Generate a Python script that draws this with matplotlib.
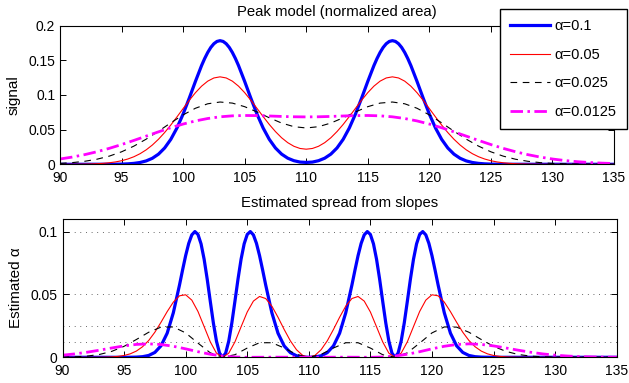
import numpy as np
import matplotlib
matplotlib.use("Agg")
import matplotlib.pyplot as plt

plt.rcParams['font.family'] = ['Liberation Sans', 'DejaVu Sans']
plt.rcParams['font.size'] = 10

# spread parameters (legend order)
alphas = [0.1, 0.05, 0.025, 0.0125]
labels = ['\u03b1=0.1', '\u03b1=0.05', '\u03b1=0.025', '\u03b1=0.0125']

# sample positions
x_step1 = np.arange(90, 136)
x_red_top = np.concatenate((np.arange(90, 130.5, 0.5), [135]))
x_red_est = np.concatenate(([90, 91], np.arange(92, 128.5, 0.5), [129, 130, 135]))
x_blue_top = [90, 94, 94.5, 95, 95.5, 96, 96.5, 97, 97.5, 98, 98.5, 99, 99.5, 100, 100.5,
              101, 101.5, 101.75, 102, 102.25, 102.5, 102.75, 103, 103.25, 103.5, 103.75,
              104, 104.25, 104.5, 105, 105.5, 106, 106.5, 107, 107.5, 108, 108.5, 109, 109.5,
              110, 110.5, 111, 111.5, 112, 112.5, 113, 113.5, 114, 114.5, 115, 115.5, 115.75,
              116, 116.25, 116.5, 116.75, 117, 117.25, 117.5, 117.75, 118, 118.25, 118.5, 119,
              119.5, 120, 120.5, 121, 121.5, 122, 122.5, 123, 123.5, 124, 124.5, 125, 125.5,
              126, 135]
x_blue_est = [90, 94, 94.5, 95, 95.5, 96, 96.5, 97, 97.5, 98, 98.5, 99,
              99.5, 99.75, 100, 100.25, 100.5, 100.75, 101, 101.25, 101.5, 101.75, 102,
              102.25, 102.5, 102.75, 103, 103.25, 103.5, 103.75, 104, 104.25, 104.5, 104.75,
              105, 105.25, 105.5, 105.75, 106, 106.25, 106.5,
              107, 107.5, 108, 108.5, 109, 109.5, 110, 110.5, 111, 111.5, 112, 112.5, 113,
              113.5, 113.75, 114, 114.25, 114.5, 114.75, 115, 115.25, 115.5, 115.75, 116,
              116.25, 116.5, 116.75, 117, 117.25, 117.5, 117.75, 118, 118.25, 118.5, 118.75,
              119, 119.25, 119.5, 119.75, 120, 120.25, 120.5,
              121, 121.5, 122, 122.5, 123, 123.5, 124, 124.5, 125, 125.5, 126, 135]

# --- top panel: signal ---
signal_01 = [0, 0.00005, 0.00013, 0.0003, 0.00064, 0.00133, 0.0026, 0.00487, 0.00867, 0.01465,
             0.02355, 0.036, 0.0524, 0.0725, 0.0955, 0.1196, 0.1425, 0.1526, 0.1614, 0.16865,
             0.174, 0.1773, 0.1784, 0.1773, 0.174, 0.16865, 0.1614, 0.1526, 0.1425, 0.1196,
             0.0955, 0.0725, 0.0524, 0.036, 0.02355, 0.0147, 0.0088, 0.0052, 0.0032, 0.0027,
             0.0032, 0.0052, 0.0088, 0.0147, 0.02355, 0.036, 0.0524, 0.0725, 0.0955, 0.1196,
             0.1425, 0.1526, 0.1614, 0.16865, 0.174, 0.1773, 0.1784, 0.1773, 0.174, 0.16865,
             0.1614, 0.1526, 0.1425, 0.1196, 0.0955, 0.0725, 0.0524, 0.036, 0.02355, 0.01465,
             0.00867, 0.00487, 0.0026, 0.00133, 0.00064, 0.0003, 0.00013, 0.00005, 0]
signal_005 = [0.00003, 0.00005, 0.0001, 0.00017, 0.0003, 0.00051, 0.00085, 0.00138, 0.0022,
              0.0034, 0.00515, 0.00758, 0.01089, 0.01526, 0.02085, 0.0278, 0.03615, 0.04583,
              0.0567, 0.06838, 0.0804, 0.0923, 0.1033, 0.11274, 0.12, 0.12459, 0.1262, 0.1246,
              0.12, 0.11279, 0.1034, 0.09247, 0.0807, 0.06889, 0.0575, 0.04722, 0.0383, 0.0312,
              0.026, 0.02283, 0.0218,
              0.02283, 0.026, 0.0312, 0.0383, 0.04722, 0.0575, 0.06889, 0.0807, 0.09247,
              0.1034, 0.11279, 0.12, 0.1246, 0.1262, 0.12459, 0.12, 0.11274, 0.1033, 0.0923,
              0.0804, 0.06838, 0.0567, 0.04583, 0.03615, 0.0278, 0.02085, 0.01526, 0.01089,
              0.00758, 0.00515, 0.0034, 0.0022, 0.00138, 0.00085, 0.00051, 0.0003, 0.00017,
              0.0001, 0.00005, 0.00003, 0]
signal_0025 = [0.0013, 0.00244, 0.00434, 0.00732, 0.01178, 0.01801, 0.02621, 0.03628, 0.04777,
               0.05983, 0.0713, 0.08087, 0.08733, 0.08987, 0.08831, 0.08315, 0.07557, 0.06712,
               0.05953, 0.05429, 0.05242, 0.05429, 0.05953, 0.06712, 0.07557, 0.08315, 0.08831,
               0.08987, 0.08733, 0.08087, 0.0713, 0.05983, 0.04777, 0.03628, 0.02621, 0.01801,
               0.01178, 0.00732, 0.00434, 0.00244, 0.0013, 0.00066, 0.00032, 0.00015, 0.00007,
               0.00003]
signal_00125 = [0.00764, 0.01044, 0.01393, 0.01812, 0.023, 0.02849, 0.03444, 0.04065, 0.04684,
                0.05275, 0.05807, 0.06258, 0.06608, 0.06852, 0.06993, 0.07043, 0.07027, 0.06972,
                0.06907, 0.06857, 0.06838, 0.06857, 0.06907, 0.06972, 0.07027, 0.07043, 0.06993,
                0.06852, 0.06608, 0.06258, 0.05807, 0.05275, 0.04684, 0.04065, 0.03444, 0.02849,
                0.023, 0.01812, 0.01393, 0.01044, 0.00764, 0.00545, 0.00379, 0.00257, 0.0017,
                0.0011]

# --- bottom panel: estimated alpha ---
est_01 = [0, 0, 0, 0.00001, 0.00004, 0.00015, 0.00049, 0.00146, 0.00388, 0.00916, 0.01918,
          0.03546,
          0.05749, 0.06945, 0.08089, 0.09061, 0.09737, 0.1, 0.09771, 0.09024, 0.078, 0.06215,
          0.04451, 0.02733, 0.01293, 0.00336, 0, 0.00336, 0.01293, 0.02733, 0.04451, 0.06215,
          0.078, 0.09024, 0.09771, 0.1, 0.09737, 0.09061, 0.08089, 0.06945, 0.05747,
          0.03542, 0.01911, 0.00904, 0.00371, 0.00123, 0.00025, 0, 0.00025, 0.00123, 0.00371,
          0.00904, 0.01911, 0.03542,
          0.05747, 0.06945, 0.08089, 0.09061, 0.09737, 0.1, 0.09771, 0.09024, 0.078, 0.06215,
          0.04451, 0.02733, 0.01293, 0.00336, 0, 0.00336, 0.01293, 0.02733, 0.04451, 0.06215,
          0.078, 0.09024, 0.09771, 0.1, 0.09737, 0.09061, 0.08089, 0.06945, 0.05749,
          0.03546, 0.01918, 0.00916, 0.00388, 0.00146, 0.00049, 0.00015, 0.00004, 0.00001,
          0, 0, 0]
est_005 = [0, 0.000001,
           0.00001, 0.00002, 0.00006, 0.00015, 0.00033, 0.00072, 0.00145, 0.00276, 0.00496,
           0.0084, 0.01337, 0.01996, 0.02789, 0.03633, 0.0439, 0.04891, 0.04973, 0.04547,
           0.03644, 0.02442, 0.0123, 0.00332, 0, 0.00329, 0.01223, 0.02424, 0.03604, 0.0447,
           0.04838, 0.04675, 0.04067, 0.03184, 0.02212, 0.01312, 0.00602, 0.00153, 0,
           0.00153, 0.00602, 0.01312, 0.02212, 0.03184, 0.04067, 0.04675, 0.04838, 0.0447,
           0.03604, 0.02424, 0.01223, 0.00329, 0, 0.00332, 0.0123, 0.02442, 0.03644, 0.04547,
           0.04973, 0.04891, 0.0439, 0.03633, 0.02789, 0.01996, 0.01337, 0.0084, 0.00496,
           0.00276, 0.00145, 0.00072, 0.00033, 0.00015, 0.00006, 0.00002, 0.00001,
           0.000001, 0, 0]
est_0025 = [0.00012, 0.00036, 0.00096, 0.00226, 0.00472, 0.00873, 0.01416, 0.01993, 0.02401,
            0.02415, 0.0194, 0.01128, 0.00355, 0.00004, 0.00206, 0.00735, 0.01159, 0.01158,
            0.00741, 0.00227, 0, 0.00227, 0.00741, 0.01158, 0.01159, 0.00735, 0.00206, 0.00004,
            0.00355, 0.01128, 0.0194, 0.02415, 0.02401, 0.01993, 0.01416, 0.00873, 0.00472,
            0.00226, 0.00096, 0.00036, 0.00012, 0.00004, 0.00001, 0, 0, 0]
est_00125 = [0.00169, 0.0027, 0.00404, 0.00566, 0.00742, 0.00906, 0.01025, 0.01069, 0.01018,
             0.00877, 0.00672, 0.00445, 0.00243, 0.00099, 0.00023, 0, 0.00005, 0.00011, 0.0001,
             0.00004, 0, 0.00004, 0.0001, 0.00011, 0.00005, 0, 0.00023, 0.00099, 0.00243,
             0.00445, 0.00672, 0.00877, 0.01018, 0.01069, 0.01025, 0.00906, 0.00742, 0.00566,
             0.00404, 0.0027, 0.00169, 0.001, 0.00055, 0.00029, 0.00014, 0.00007]

xticks = [90, 95, 100, 105, 110, 115, 120, 125, 130, 135]
yticks_top = [0, 0.05, 0.1, 0.15, 0.2]
yticks_top_labels = ['0', '0.05', '0.1', '0.15', '0.2']
yticks_bot = [0, 0.05, 0.1]
yticks_bot_labels = ['0', '0.05', '0.1']

W, H = 629, 383
fig = plt.figure(figsize=(W / 100, H / 100), dpi=100)
ax1 = fig.add_axes([60 / W, 1 - 164.3 / H, 554 / W, 138.6 / H])
ax2 = fig.add_axes([62.5 / W, 1 - 357.3 / H, 554.2 / W, 138.3 / H])

styles = [dict(color='#0000ff', lw=2.3, ls='-'),
          dict(color='#ff0000', lw=0.8, ls='-'),
          dict(color='black', lw=0.8, ls=(0, (6, 5))),
          dict(color='#ff00ff', lw=2.0, ls=(0, (4.5, 1.6, 0.9, 1.6)))]

top_x = [x_blue_top, x_red_top, x_step1, x_step1]
top_y = [signal_01, signal_005, signal_0025, signal_00125]
bot_x = [x_blue_est, x_red_est, x_step1, x_step1]
bot_y = [est_01, est_005, est_0025, est_00125]

# dotted reference lines at each alpha
for a in alphas:
    ax2.plot([90, 135], [a, a], color='#444444', lw=0.7, ls=(0, (0.8, 5)), zorder=1)

for st, lab, xs, ys in zip(styles, labels, top_x, top_y):
    ax1.plot(xs, ys, label=lab, zorder=2, **st)
for st, xs, ys in zip(styles, bot_x, bot_y):
    ax2.plot(xs, ys, zorder=2, **st)

for ax in (ax1, ax2):
    ax.set_xlim(90, 135)
    ax.set_xticks(xticks)
    ax.tick_params(direction='in', top=True, right=True, length=4, width=0.7, labelsize=10)
    ax.tick_params(axis='x', pad=4.5)
    ax.tick_params(axis='y', pad=3.5)
    for sp in ax.spines.values():
        sp.set_linewidth(0.8)

ax1.set_ylim(0, 0.2)
ax1.set_yticks(yticks_top)
ax1.set_yticklabels(yticks_top_labels)
ax2.set_ylim(0, 0.11)
ax2.set_yticks(yticks_bot)
ax2.set_yticklabels(yticks_bot_labels)

ax1.set_title('Peak model (normalized area)', fontsize=10.7, pad=7)
ax2.set_title('Estimated spread from slopes', fontsize=10.7, pad=8.5)
ax1.set_ylabel('signal', fontsize=11)
ax2.set_ylabel('Estimated \u03b1', fontsize=11)
ax1.yaxis.set_label_coords(-0.072, 0.5)
ax2.yaxis.set_label_coords(-0.072, 0.5)

leg = ax1.legend(loc='upper left', bbox_to_anchor=(500 / W, 1 - 9 / H),
                 bbox_transform=fig.transFigure, fancybox=False, framealpha=1,
                 edgecolor='black', fontsize=10.5, handlelength=2.7, handletextpad=0.35,
                 labelspacing=1.0, borderpad=0.7, borderaxespad=0)
leg.get_frame().set_linewidth(1.0)

fig.savefig('out.png', dpi=100)
